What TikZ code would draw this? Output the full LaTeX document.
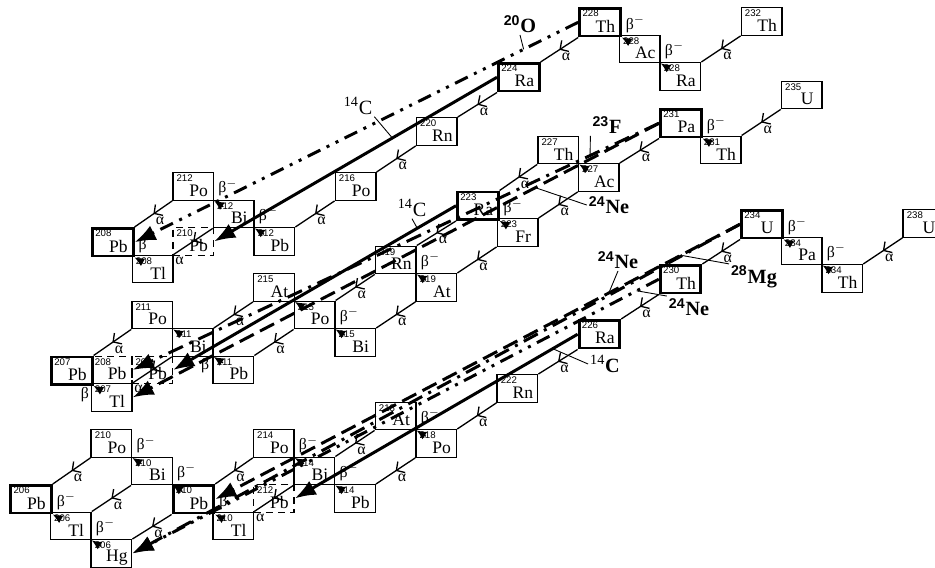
\documentclass[tikz,border=0pt]{standalone}
\usepackage{fontspec}
\setmainfont{Liberation Serif}
\setsansfont{Liberation Sans}
\usetikzlibrary{arrows.meta,decorations.markings,calc}

\tikzset{
  nucbox/.style 2 args={draw, line width=.8pt, rectangle, inner sep=0pt,
    minimum width=.812cm, minimum height=.55cm, anchor=north west,
    label={[massno]north west:#1}, label={[elsym]center:#2}},
  thickbox/.style={line width=1.7pt},
  dashbox/.style={dash pattern=on 4pt off 3pt},
  massno/.style={anchor=north west, inner sep=0pt, xshift=.08cm, yshift=-.05cm,
    font=\sffamily\fontsize{5.5}{6}\selectfont},
  elsym/.style={inner sep=0pt, xshift=.11cm, yshift=-.08cm, font=\fontsize{10}{11}\selectfont},
  adecay/.style={line width=.75pt, postaction={decorate},
    decoration={markings, mark=at position .5 with {\arrow{Straight Barb[length=3.5pt,width=7.5pt]}}}},
  alab/.style={pos=.5, xshift=.13cm, yshift=-.14cm, inner sep=0pt, font=\fontsize{9}{10}\selectfont},
  alabe/.style={pos=1, xshift=.12cm, yshift=-.12cm, inner sep=0pt, font=\fontsize{9}{10}\selectfont},
  bdecay/.style={line width=.75pt, -{Latex[length=5.5pt,width=5pt]}},
  blab/.style={anchor=south west, inner sep=0pt, xshift=.07cm, yshift=.08cm, font=\fontsize{9}{10}\selectfont},
  blabl/.style={anchor=north east, inner sep=0pt, xshift=-.08cm, yshift=-.02cm, font=\fontsize{9}{10}\selectfont},
  clust/.style={line width=1.7pt, -{Latex[length=12pt,width=9pt]}},
  cldash/.style={dash pattern=on 9pt off 4pt},
  cldot/.style={dash pattern=on 9pt off 4pt on 1.7pt off 4pt},
  cldotdot/.style={dash pattern=on 8pt off 4pt on 1.7pt off 4pt on 1.7pt off 4pt},
  clab/.style={inner sep=1pt, font=\fontsize{11.5}{12}\selectfont\bfseries},
  clabr/.style={inner sep=1pt, font=\fontsize{11.5}{12}\selectfont},
  lead/.style={line width=.5pt}
}

\begin{document}
\begin{tikzpicture}
\useasboundingbox (0,0) rectangle (18.7,-11.34);

% thorium series (4n)
\begin{scope}[xshift=1.82cm, yshift=-4.54cm, x=.812cm, y=.55cm]
  \node[nucbox={210}{Pb}, dashbox] (pb210d) at (2,0) {};
  \node[nucbox={232}{Th}] (th232) at (16,8) {};
  \node[nucbox={228}{Ra}] (ra228) at (14,6) {};
  \node[nucbox={228}{Ac}] (ac228) at (13,7) {};
  \node[nucbox={228}{Th}, thickbox] (th228) at (12,8) {};
  \node[nucbox={224}{Ra}, thickbox] (ra224) at (10,6) {};
  \node[nucbox={220}{Rn}] (rn220) at (8,4) {};
  \node[nucbox={216}{Po}] (po216) at (6,2) {};
  \node[nucbox={212}{Pb}] (pb212) at (4,0) {};
  \node[nucbox={212}{Bi}] (bi212) at (3,1) {};
  \node[nucbox={212}{Po}] (po212) at (2,2) {};
  \node[nucbox={208}{Tl}] (tl208) at (1,-1) {};
  \node[nucbox={208}{Pb}, thickbox] (pb208) at (0,0) {};

  \draw[adecay] (th232.south west) -- (ra228.north east) node[alab] (aTh232) {α};
  \draw[adecay] (th228.south west) -- (ra224.north east) node[alab] (aTh228) {α};
  \draw[adecay] (ra224.south west) -- (rn220.north east) node[alab] (aRa224) {α};
  \draw[adecay] (rn220.south west) -- (po216.north east) node[alab] (aRn220) {α};
  \draw[adecay] (po216.south west) -- (pb212.north east) node[alab] (aPo216) {α};
  \draw[adecay] (bi212.south west) -- (tl208.north east) node[alabe] (aBi212) {α};
  \draw[adecay] (po212.south west) -- (pb208.north east) node[alab] (aPo212) {α};

  \draw[bdecay] ($(ra228.north west)!.5!(ra228.center)$) -- (ac228.south east) node[blab] (bRa228) {β$^-$};
  \draw[bdecay] ($(ac228.north west)!.5!(ac228.center)$) -- (th228.south east) node[blab] (bAc228) {β$^-$};
  \draw[bdecay] ($(pb212.north west)!.5!(pb212.center)$) -- (bi212.south east) node[blab] (bPb212) {β$^-$};
  \draw[bdecay] ($(bi212.north west)!.5!(bi212.center)$) -- (po212.south east) node[blab] (bBi212) {β$^-$};
  \draw[bdecay] ($(tl208.north west)!.5!(tl208.center)$) -- (pb208.south east) node[blab] (bTl208) {β};
\end{scope}

% actinium series (4n+3)
\begin{scope}[xshift=1cm, yshift=-7.11cm, x=.812cm, y=.55cm]
  \node[nucbox={208}{Pb}, dashbox] (pb208d) at (1,0) {};
  \node[nucbox={209}{Pb}, dashbox] (pb209d) at (2,0) {};
  \node[nucbox={235}{U}] (u235) at (18,10) {};
  \node[nucbox={231}{Th}] (th231) at (16,8) {};
  \node[nucbox={231}{Pa}, thickbox] (pa231) at (15,9) {};
  \node[nucbox={227}{Ac}] (ac227) at (13,7) {};
  \node[nucbox={227}{Th}] (th227) at (12,8) {};
  \node[nucbox={223}{Fr}] (fr223) at (11,5) {};
  \node[nucbox={223}{Ra}, thickbox] (ra223) at (10,6) {};
  \node[nucbox={219}{At}] (at219) at (9,3) {};
  \node[nucbox={219}{Rn}] (rn219) at (8,4) {};
  \node[nucbox={215}{Bi}] (bi215) at (7,1) {};
  \node[nucbox={215}{Po}] (po215) at (6,2) {};
  \node[nucbox={215}{At}] (at215) at (5,3) {};
  \node[nucbox={211}{Pb}] (pb211) at (4,0) {};
  \node[nucbox={211}{Bi}] (bi211) at (3,1) {};
  \node[nucbox={211}{Po}] (po211) at (2,2) {};
  \node[nucbox={207}{Tl}] (tl207) at (1,-1) {};
  \node[nucbox={207}{Pb}, thickbox] (pb207) at (0,0) {};

  \draw[adecay] (u235.south west) -- (th231.north east) node[alab] (aU235) {α};
  \draw[adecay] (pa231.south west) -- (ac227.north east) node[alab] (aPa231) {α};
  \draw[adecay] (th227.south west) -- (ra223.north east) node[alab] (aTh227) {α};
  \draw[adecay] (ac227.south west) -- (fr223.north east) node[alab] (aAc227) {α};
  \draw[adecay] (ra223.south west) -- (rn219.north east) node[alab] (aRa223) {α};
  \draw[adecay] (fr223.south west) -- (at219.north east) node[alab] (aFr223) {α};
  \draw[adecay] (rn219.south west) -- (po215.north east) node[alab] (aRn219) {α};
  \draw[adecay] (at219.south west) -- (bi215.north east) node[alab] (aAt219) {α};
  \draw[adecay] (at215.south west) -- (bi211.north east) node[alab] (aAt215) {α};
  \draw[adecay] (po215.south west) -- (pb211.north east) node[alab] (aPo215) {α};
  \draw[adecay] (bi211.south west) -- (tl207.north east) node[alabe] (aBi211) {α};
  \draw[adecay] (po211.south west) -- (pb207.north east) node[alab] (aPo211) {α};

  \draw[bdecay] ($(th231.north west)!.5!(th231.center)$) -- (pa231.south east) node[blab] (bTh231) {β$^-$};
  \draw[bdecay] ($(ac227.north west)!.5!(ac227.center)$) -- (th227.south east);
  \draw[bdecay] ($(fr223.north west)!.5!(fr223.center)$) -- (ra223.south east) node[blab] (bFr223) {β$^-$};
  \draw[bdecay] ($(at219.north west)!.5!(at219.center)$) -- (rn219.south east) node[blab] (bAt219) {β$^-$};
  \draw[bdecay] ($(bi215.north west)!.5!(bi215.center)$) -- (po215.south east) node[blab] (bBi215) {β$^-$};
  \draw[bdecay] ($(po215.north west)!.5!(po215.center)$) -- (at215.south east);
  \draw[bdecay] ($(pb211.north west)!.5!(pb211.center)$) -- (bi211.south east) node[blabl] (bPb211) {β};
  \draw[bdecay] ($(bi211.north west)!.5!(bi211.center)$) -- (po211.south east);
  \draw[bdecay] ($(tl207.north west)!.5!(tl207.center)$) -- (pb207.south east) node[blabl] (bTl207) {β};
\end{scope}

% uranium series (4n+2)
\begin{scope}[xshift=.184cm, yshift=-9.68cm, x=.812cm, y=.55cm]
  \node[nucbox={212}{Pb}, dashbox] (pb212d) at (6,0) {};
  \node[nucbox={238}{U}] (u238) at (22,10) {};
  \node[nucbox={234}{Th}] (th234) at (20,8) {};
  \node[nucbox={234}{Pa}] (pa234) at (19,9) {};
  \node[nucbox={234}{U}, thickbox] (u234) at (18,10) {};
  \node[nucbox={230}{Th}, thickbox] (th230) at (16,8) {};
  \node[nucbox={226}{Ra}, thickbox] (ra226) at (14,6) {};
  \node[nucbox={222}{Rn}] (rn222) at (12,4) {};
  \node[nucbox={218}{Po}] (po218) at (10,2) {};
  \node[nucbox={218}{At}] (at218) at (9,3) {};
  \node[nucbox={214}{Pb}] (pb214) at (8,0) {};
  \node[nucbox={214}{Bi}] (bi214) at (7,1) {};
  \node[nucbox={214}{Po}] (po214) at (6,2) {};
  \node[nucbox={210}{Tl}] (tl210) at (5,-1) {};
  \node[nucbox={210}{Pb}, thickbox] (pb210) at (4,0) {};
  \node[nucbox={210}{Bi}] (bi210) at (3,1) {};
  \node[nucbox={210}{Po}] (po210) at (2,2) {};
  \node[nucbox={206}{Tl}] (tl206) at (1,-1) {};
  \node[nucbox={206}{Pb}, thickbox] (pb206) at (0,0) {};
  \node[nucbox={206}{Hg}] (hg206) at (2,-2) {};

  \draw[adecay] (u238.south west) -- (th234.north east) node[alab] (aU238) {α};
  \draw[adecay] (u234.south west) -- (th230.north east) node[alab] (aU234) {α};
  \draw[adecay] (th230.south west) -- (ra226.north east) node[alab] (aTh230) {α};
  \draw[adecay] (ra226.south west) -- (rn222.north east) node[alab] (aRa226) {α};
  \draw[adecay] (rn222.south west) -- (po218.north east) node[alab] (aRn222) {α};
  \draw[adecay] (po218.south west) -- (pb214.north east) node[alab] (aPo218) {α};
  \draw[adecay] (at218.south west) -- (bi214.north east) node[alab] (aAt218) {α};
  \draw[adecay] (po214.south west) -- (pb210.north east) node[alab] (aPo214) {α};
  \draw[adecay] (bi214.south west) -- (tl210.north east) node[alabe] (aBi214) {α};
  \draw[adecay] (po210.south west) -- (pb206.north east) node[alab] (aPo210) {α};
  \draw[adecay] (bi210.south west) -- (tl206.north east) node[alab] (aBi210) {α};
  \draw[adecay] (pb210.south west) -- (hg206.north east) node[alab] (aPb210) {α};

  \draw[bdecay] ($(th234.north west)!.5!(th234.center)$) -- (pa234.south east) node[blab] (bTh234) {β$^-$};
  \draw[bdecay] ($(pa234.north west)!.5!(pa234.center)$) -- (u234.south east) node[blab] (bPa234) {β$^-$};
  \draw[bdecay] ($(po218.north west)!.5!(po218.center)$) -- (at218.south east) node[blab] (bPo218) {β$^-$};
  \draw[bdecay] ($(pb214.north west)!.5!(pb214.center)$) -- (bi214.south east) node[blab] (bPb214) {β$^-$};
  \draw[bdecay] ($(bi214.north west)!.5!(bi214.center)$) -- (po214.south east) node[blab] (bBi214) {β$^-$};
  \draw[bdecay] ($(tl210.north west)!.5!(tl210.center)$) -- (pb210.south east) node[blab] (bTl210) {β};
  \draw[bdecay] ($(pb210.north west)!.5!(pb210.center)$) -- (bi210.south east) node[blab] (bPb210) {β$^-$};
  \draw[bdecay] ($(bi210.north west)!.5!(bi210.center)$) -- (po210.south east) node[blab] (bBi210) {β$^-$};
  \draw[bdecay] ($(tl206.north west)!.5!(tl206.center)$) -- (pb206.south east) node[blab] (bTl206) {β$^-$};
  \draw[bdecay] ($(hg206.north west)!.5!(hg206.center)$) -- (tl206.south east) node[blab] (bHg206) {β$^-$};
\end{scope}

% cluster decays
\draw[clust, cldotdot] (th228.west) -- coordinate[pos=.123] (c20O) (pb208.east);
\draw[clust] (ra224.west) -- coordinate[pos=.37] (c14Ca) (pb210d.east);
\draw[clust, cldot] (pa231.west) -- coordinate[pos=.131] (c23F) (pb208d.east);
\draw[clust, cldash] (pa231.west) -- coordinate[pos=.235] (c24Nea) (tl207.east);
\draw[clust] (ra223.west) -- coordinate[pos=.137] (c14Cb) (pb209d.east);
\draw[clust, cldash] (u234.west) -- coordinate[pos=.25] (c24Nec) (pb210.east);
\draw[clust, cldot] (u234.west) -- coordinate[pos=.095] (c28Mg) (hg206.east);
\draw[clust, cldotdot] (th230.west) -- coordinate[pos=.042] (c24Neb) (hg206.east);
\draw[clust] (ra226.west) -- coordinate[pos=.088] (c14Cc) (pb212d.east);

\node[clab] (l20O) at (10.4,-.48) {\textsuperscript{\sffamily 20}O};
\node[clabr] (l14Ca) at (7.16,-2.12) {\textsuperscript{14}C};
\node[clab] (l23F) at (12.14,-2.5) {\textsuperscript{\sffamily 23}F};
\node[clab] (l24Nea) at (12.18,-4.1) {\textsuperscript{\sffamily 24}Ne};
\node[clabr] (l14Cb) at (8.24,-4.16) {\textsuperscript{14}C};
\node[clab] (l14Cc) at (12.1,-7.28) {\textsuperscript{\mdseries 14}C};
\node[clab] (l24Neb) at (13.78,-6.14) {\textsuperscript{\sffamily 24}Ne};
\node[clab] (l24Nec) at (12.36,-5.2) {\textsuperscript{\sffamily 24}Ne};
\node[clab] (l28Mg) at (15.08,-5.54) {\textsuperscript{\sffamily 28}Mg};

\draw[lead] (l20O.south) -- (c20O);
\draw[lead] (l14Ca.south east) -- (c14Ca);
\draw[lead] (l23F.south west) -- (c23F);
\draw[lead] (l24Nea.west) -- (c24Nea);
\draw[lead] (l14Cb.south) -- (c14Cb);
\draw[lead] (l14Cc.west) -- (c14Cc);
\draw[lead] (l24Neb.north west) -- (c24Neb);
\draw[lead] (l24Nec.south) -- (c24Nec);
\draw[lead] (l28Mg.north west) -- (c28Mg);
\end{tikzpicture}
\end{document}
